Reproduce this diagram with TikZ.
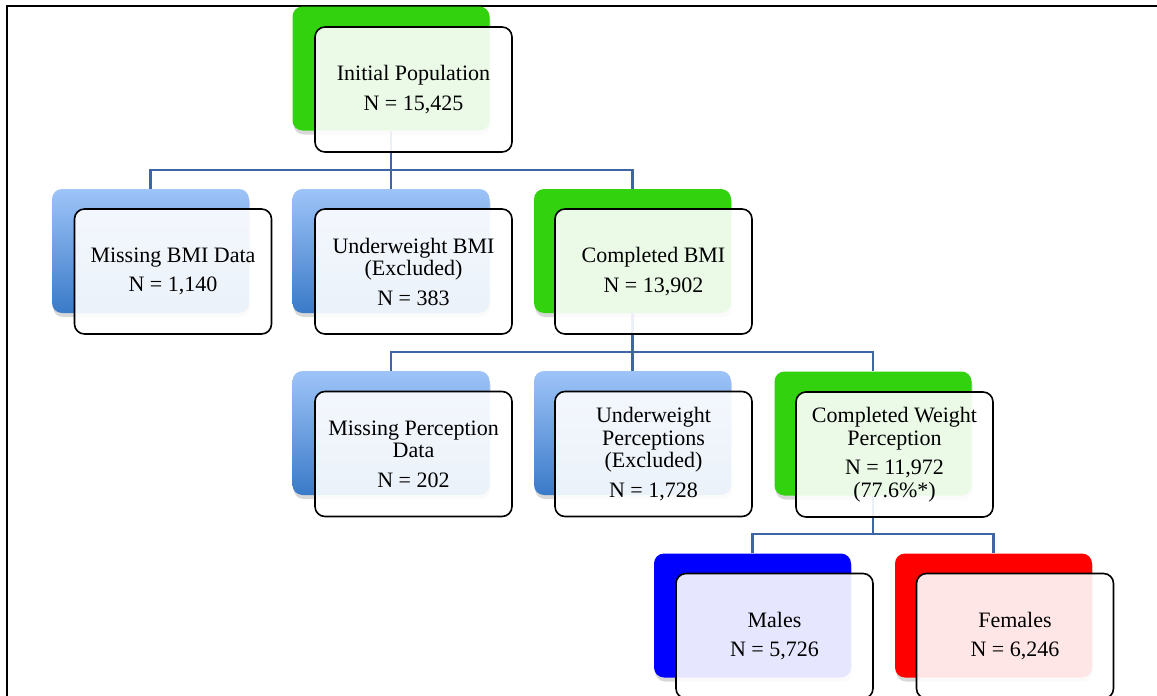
\documentclass[tikz,border=0pt]{standalone}
\usepackage{fontspec}
\setmainfont{Liberation Serif}
\usetikzlibrary{shadows}

\definecolor{boxgreen}{RGB}{50,210,15}
\definecolor{bluetop}{RGB}{158,196,248}
\definecolor{bluebot}{RGB}{58,122,200}
\definecolor{linkblue}{RGB}{62,102,165}

\begin{document}
\begin{tikzpicture}[
    x=1pt, y=-1pt,
    backbox/.style={rectangle, rounded corners=10pt, minimum width=197pt, minimum height=124pt,
        drop shadow={shadow xshift=1pt, shadow yshift=-4pt, opacity=0.3}},
    greenback/.style={backbox, fill=boxgreen},
    blueback/.style={backbox, top color=bluetop, bottom color=bluebot},
    frontbox/.style={draw, line width=1.6pt, rectangle, rounded corners=10pt, minimum width=197pt,
        minimum height=125pt, align=center, fill=white, fill opacity=0.9, text opacity=1,
        font=\fontsize{22}{22.5}\selectfont},
    link/.style={draw=linkblue, line width=2.2pt}
]
\useasboundingbox (0,0) rectangle (1157,696);
\fill[white] (0,0) rectangle (1157,696);
\draw[line width=2pt] (7,696) -- (7,6) -- (1157,6);

% Fundos
\node[greenback] (initback) at (391,68.5) {};
\node[blueback] (missbmiback) at (150.5,251) {};
\node[blueback] (underbmiback) at (391,251) {};
\node[greenback] (compbmiback) at (632.5,251) {};
\node[blueback] (missperback) at (391,433) {};
\node[blueback] (underperback) at (632.5,433) {};
\node[greenback] (compperback) at (873,433.5) {};
\node[backbox, fill=blue] (malesback) at (752.5,615.5) {};
\node[backbox, fill=red] (femalesback) at (993.5,615.5) {};

% Ligacoes
\coordinate (split1) at (391,170);
\coordinate (split2) at (632.5,352);
\coordinate (split3) at (873,534);
\draw[link] (initback.south) -- (split1);
\draw[link] (split1) -| (missbmiback.north);
\draw[link] (split1) -- (underbmiback.north);
\draw[link] (split1) -| (compbmiback.north);
\draw[link] (compbmiback.south) -- (split2);
\draw[link] (split2) -| (missperback.north);
\draw[link] (split2) -- (underperback.north);
\draw[link] (split2) -| (compperback.north);
\draw[link] (compperback.south) -- (split3);
\draw[link] (split3) -| (malesback.north);
\draw[link] (split3) -| (femalesback.north);

% Caixas
\node[frontbox] (init) at (413.5,89.5) {Initial Population\\[7pt]N = 15,425};
\node[frontbox] (missbmi) at (173,271.5) {Missing BMI Data\\[7pt]N = 1,140};
\node[frontbox] (underbmi) at (413.5,271.5) {Underweight BMI\\(Excluded)\\[7pt]N = 383};
\node[frontbox] (compbmi) at (653.5,271.5) {Completed BMI\\[7pt]N = 13,902};
\node[frontbox] (missper) at (413.5,454) {Missing Perception\\Data\\[7pt]N = 202};
\node[frontbox] (underper) at (653.5,454) {Underweight\\Perceptions\\(Excluded)\\[7pt]N = 1,728};
\node[frontbox] (compper) at (894.5,454.5) {Completed Weight\\Perception\\[7pt]N = 11,972\\(77.6\%*)};
\node[frontbox] (males) at (774.5,636) {Males\\[7pt]N = 5,726};
\node[frontbox] (females) at (1015,636) {Females\\[7pt]N = 6,246};

\end{tikzpicture}
\end{document}
